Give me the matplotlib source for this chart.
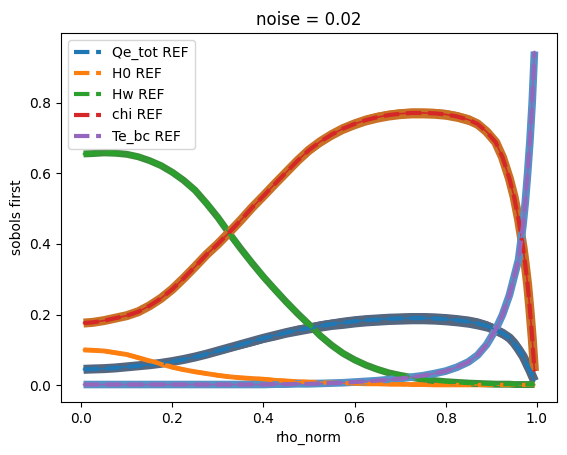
import numpy as np
import matplotlib
matplotlib.use("Agg")
import matplotlib.pyplot as plt

# rho_norm grid (denser near the edge where the curves are steep)
rho = [0.005, 0.025, 0.05, 0.075, 0.1, 0.125, 0.15, 0.175, 0.2, 0.225,
       0.25, 0.275, 0.3, 0.325, 0.35, 0.375, 0.4, 0.425, 0.45, 0.475,
       0.5, 0.525, 0.55, 0.575, 0.6, 0.625, 0.65, 0.675, 0.7, 0.725,
       0.75, 0.775, 0.8, 0.825, 0.85, 0.87, 0.89, 0.91, 0.925, 0.94,
       0.95, 0.96, 0.97, 0.975, 0.98, 0.985, 0.99, 0.995]

qe_tot = [0.045, 0.046, 0.047, 0.049, 0.052, 0.055, 0.058, 0.062, 0.067, 0.073,
          0.080, 0.088, 0.097, 0.106, 0.115, 0.124, 0.133, 0.141, 0.149, 0.156,
          0.162, 0.168, 0.173, 0.177, 0.181, 0.184, 0.186, 0.188, 0.189, 0.190,
          0.190, 0.189, 0.187, 0.184, 0.180, 0.175, 0.168, 0.157, 0.147, 0.134,
          0.120, 0.102, 0.082, 0.069, 0.055, 0.042, 0.027, 0.012]
h0 = [0.100, 0.099, 0.097, 0.092, 0.087, 0.078, 0.069, 0.060, 0.051, 0.044,
      0.038, 0.033, 0.028, 0.024, 0.021, 0.019, 0.017, 0.014, 0.012, 0.010,
      0.009, 0.008, 0.007, 0.006, 0.005, 0.004, 0.004, 0.003, 0.003, 0.002,
      0.002, 0.001, 0.001, 0.001, 0.001, 0.001, 0.001, 0.001, 0.001, 0.001,
      0.001, 0.001, 0.001, 0.001, 0.001, 0.001, 0.001, 0.001]
hw = [0.655, 0.656, 0.658, 0.657, 0.654, 0.647, 0.636, 0.622, 0.603, 0.580,
      0.552, 0.515, 0.475, 0.430, 0.387, 0.346, 0.307, 0.271, 0.236, 0.203,
      0.172, 0.140, 0.113, 0.090, 0.072, 0.057, 0.045, 0.035, 0.028, 0.022,
      0.017, 0.013, 0.010, 0.008, 0.006, 0.005, 0.004, 0.003, 0.003, 0.003,
      0.002, 0.002, 0.002, 0.002, 0.002, 0.002, 0.002, 0.002]
chi = [0.176, 0.178, 0.183, 0.190, 0.197, 0.208, 0.225, 0.246, 0.272, 0.303,
       0.336, 0.370, 0.400, 0.433, 0.467, 0.503, 0.536, 0.570, 0.603, 0.636,
       0.666, 0.690, 0.710, 0.727, 0.740, 0.751, 0.759, 0.765, 0.769, 0.771,
       0.771, 0.770, 0.767, 0.761, 0.752, 0.740, 0.718, 0.688, 0.645, 0.585,
       0.535, 0.470, 0.390, 0.340, 0.285, 0.215, 0.135, 0.040]
te_bc = [0.002, 0.002, 0.002, 0.002, 0.002, 0.002, 0.002, 0.002, 0.002, 0.002,
         0.002, 0.002, 0.002, 0.002, 0.002, 0.002, 0.002, 0.003, 0.003, 0.004,
         0.004, 0.005, 0.006, 0.007, 0.009, 0.011, 0.013, 0.016, 0.019, 0.023,
         0.027, 0.033, 0.040, 0.051, 0.066, 0.085, 0.115, 0.158, 0.200, 0.255,
         0.305, 0.355, 0.455, 0.520, 0.600, 0.690, 0.800, 0.945]

# half-width of the noisy sample band around each reference curve
qe_spread = [0.003, 0.003, 0.004, 0.004, 0.005, 0.005, 0.006, 0.006, 0.007, 0.008,
             0.008, 0.009, 0.010, 0.010, 0.011, 0.012, 0.012, 0.013, 0.013, 0.014,
             0.014, 0.015, 0.015, 0.016, 0.016, 0.016, 0.016, 0.016, 0.016, 0.016,
             0.016, 0.016, 0.016, 0.016, 0.016, 0.016, 0.015, 0.015, 0.014, 0.014,
             0.013, 0.012, 0.011, 0.010, 0.009, 0.008, 0.006, 0.004]
chi_spread = [0.004, 0.004, 0.005, 0.005, 0.006, 0.006, 0.007, 0.007, 0.008, 0.008,
              0.009, 0.009, 0.010, 0.010, 0.011, 0.011, 0.012, 0.012, 0.013, 0.013,
              0.014, 0.014, 0.014, 0.014, 0.014, 0.014, 0.014, 0.014, 0.014, 0.014,
              0.014, 0.014, 0.014, 0.014, 0.014, 0.014, 0.014, 0.013, 0.013, 0.012,
              0.011, 0.010, 0.009, 0.008, 0.007, 0.006, 0.005, 0.004]

names = ["Qe_tot", "H0", "Hw", "chi", "Te_bc"]
refs = [qe_tot, h0, hw, chi, te_bc]
spreads = [qe_spread, None, None, chi_spread, None]
colors = ["#1f77b4", "#ff7f0e", "#2ca02c", "#d62728", "#9467bd"]
band_colors = ["#55667f", "#f8821c", "#3b8f3b", "#c97225", "#5592c6"]
band_widths = [6.5, 3.5, 5.0, 6.5, 5.5]

fig = plt.figure(figsize=(5.67, 4.55), dpi=100)
ax = fig.add_axes([61 / 567, 53 / 455, 496 / 567, 369 / 455])

x = np.array(rho)
# noisy sample bands first
for ref, spr, bc, bw in zip(refs, spreads, band_colors, band_widths):
    y = np.array(ref)
    if spr is not None:
        s = np.array(spr)
        ax.fill_between(x, y - s, y + s, color=bc, lw=0, zorder=1)
    ax.plot(x, y, color=bc, lw=bw, solid_capstyle="butt", zorder=1)

for ref, c in zip(refs, colors):
    ax.plot(x, ref, color=c, lw=1.2, zorder=2)

# reference curves
for name, ref, c in zip(names, refs, colors):
    ax.plot(x, ref, "--", color=c, lw=3, label=f"{name} REF", zorder=3)

ax.set_xlim(-0.0445, 1.0445)
ax.set_ylim(-0.0475, 0.9975)
ax.set_title("noise = 0.02")
ax.set_xlabel("rho_norm")
ax.set_ylabel("sobols first")
ax.legend(loc="upper left")

fig.savefig("out.png", dpi=100)
